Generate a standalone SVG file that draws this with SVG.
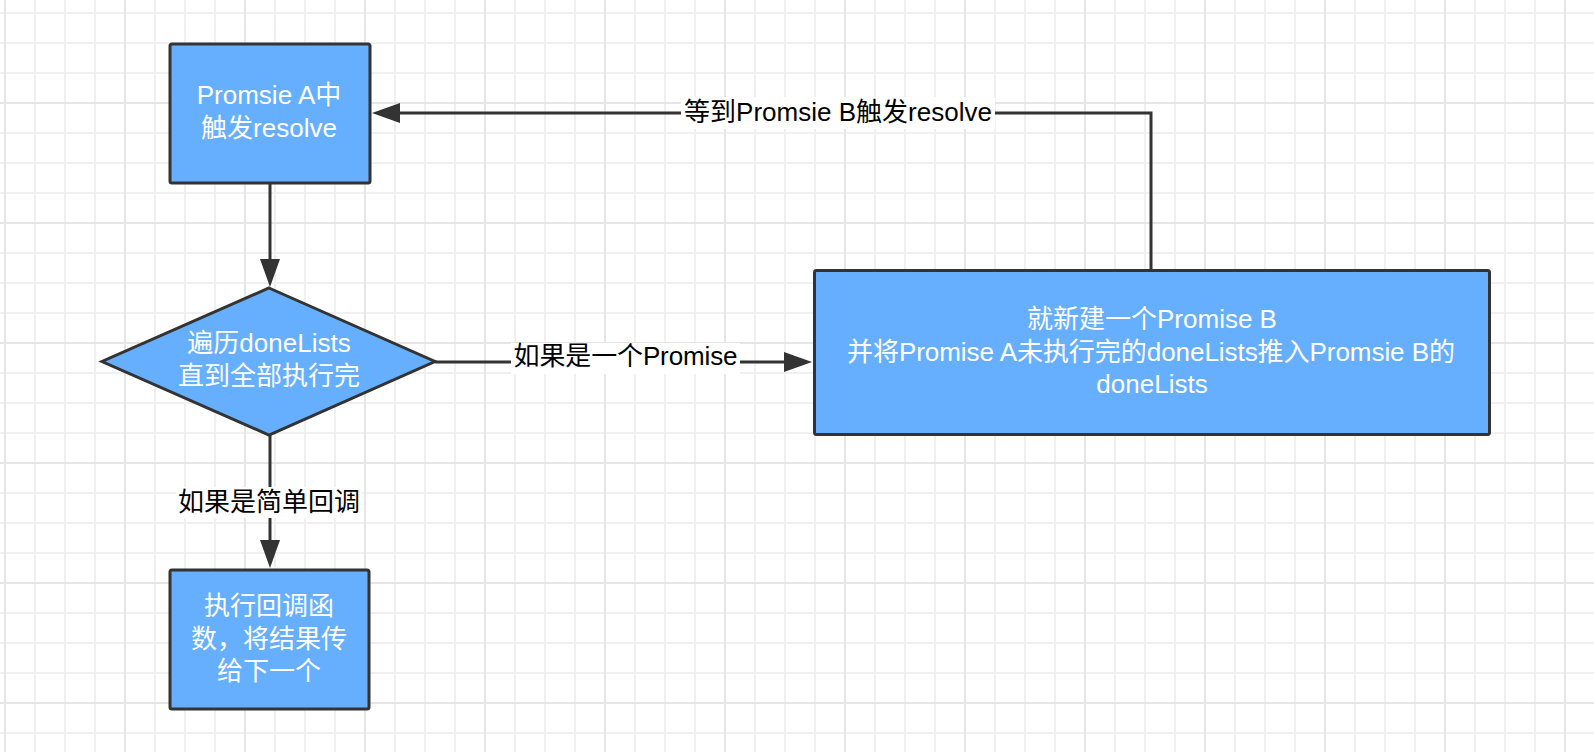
<svg xmlns="http://www.w3.org/2000/svg" width="1594" height="752" viewBox="0 0 1594 752">
<style>
  .node { fill: #66AFFF; stroke: #333333; stroke-width: 3; }
  .ntext { font-family: "Liberation Sans", "Noto Sans CJK SC", sans-serif; font-size: 26px; fill: #FFFFFF; text-anchor: middle; }
  .ltext { font-family: "Liberation Sans", "Noto Sans CJK SC", sans-serif; font-size: 26px; fill: #000000; text-anchor: middle; }
  .edge { fill: none; stroke: #333333; stroke-width: 3; marker-end: url(#arrow); }
  .lbg { fill: #FFFFFF; }
</style>
<defs>
  <pattern id="grid" patternUnits="userSpaceOnUse" x="4" y="-18" width="120" height="120">
    <rect x="30" y="0" width="2" height="120" fill="#F0F0F0"/>
    <rect x="60" y="0" width="2" height="120" fill="#F0F0F0"/>
    <rect x="90" y="0" width="2" height="120" fill="#F0F0F0"/>
    <rect x="0" y="30" width="120" height="2" fill="#F0F0F0"/>
    <rect x="0" y="60" width="120" height="2" fill="#F0F0F0"/>
    <rect x="0" y="90" width="120" height="2" fill="#F0F0F0"/>
    <rect x="0" y="0" width="2" height="120" fill="#E6E6E6"/>
    <rect x="0" y="0" width="120" height="2" fill="#E6E6E6"/>
  </pattern>
  <marker id="arrow" markerUnits="userSpaceOnUse" markerWidth="30" markerHeight="22" refX="2" refY="10" orient="auto">
    <path d="M0,0 L28,10 L0,20 Z" fill="#333333"/>
  </marker>
</defs>
<rect x="0" y="0" width="1594" height="752" fill="#FFFFFF"/>
<rect x="0" y="0" width="1594" height="752" fill="url(#grid)"/>

<g id="connectors">
  <path class="edge" d="M270,184 V261"/>
  <path class="edge" d="M270,435 V542"/>
  <path class="edge" d="M435,362 H786"/>
  <path class="edge" d="M1151,270 V113 H398"/>
  <g id="label-top">
    <rect class="lbg" x="681" y="97" width="314" height="32"/>
    <text class="ltext" x="838" y="121" textLength="308">等到Promsie B触发resolve</text>
  </g>
  <g id="label-right">
    <rect class="lbg" x="511" y="343" width="229" height="31"/>
    <text class="ltext" x="625.5" y="365" textLength="224">如果是一个Promise</text>
  </g>
  <g id="label-bottom">
    <rect class="lbg" x="176" y="487" width="186" height="31"/>
    <text class="ltext" x="269" y="511">如果是简单回调</text>
  </g>
</g>

<g id="nodeA">
  <rect class="node" x="170" y="44" width="200" height="139" rx="2"/>
  <text class="ntext" x="269" y="104">Promsie A中</text>
  <text class="ntext" x="269" y="137">触发resolve</text>
</g>

<g id="nodeDecision">
  <polygon class="node" points="269,288 435,361.5 269,435 102,361.5"/>
  <text class="ntext" x="269" y="352">遍历doneLists</text>
  <text class="ntext" x="269" y="385">直到全部执行完</text>
</g>

<g id="nodeCallback">
  <rect class="node" x="170" y="570" width="199" height="139" rx="2"/>
  <text class="ntext" x="269" y="615">执行回调函</text>
  <text class="ntext" x="269" y="648">数，将结果传</text>
  <text class="ntext" x="269" y="680">给下一个</text>
</g>

<g id="nodeB">
  <rect class="node" x="814.5" y="270.5" width="675" height="164" rx="2"/>
  <text class="ntext" x="1152" y="328">就新建一个Promise B</text>
  <text class="ntext" x="1151" y="361" textLength="608">并将Promise A未执行完的doneLists推入Promsie B的</text>
  <text class="ntext" x="1152" y="393">doneLists</text>
</g>
</svg>
